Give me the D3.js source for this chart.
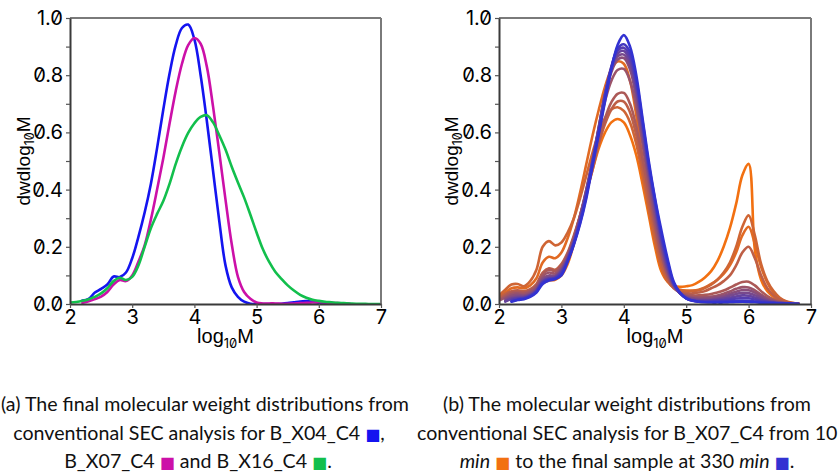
<!DOCTYPE html>
<html><head><meta charset="utf-8">
<script src="https://cdn.jsdelivr.net/npm/d3@7"></script>
<style>
body{margin:0;background:#fff;}
svg{display:block;}
</style></head><body>
<svg id="chart" width="838" height="475"></svg>
<script>
// ---------- DATA ----------
const logM_A = [2.0,2.1,2.2,2.3,2.4,2.5,2.6,2.7,2.8,2.9,3.0,3.1,3.2,3.3,3.4,3.5,3.6,3.7,3.8,3.9,4.0,4.1,4.2,4.3,4.4,4.5,4.6,4.7,4.8,4.9,5.0,5.1,5.2,5.3,5.4,5.5,5.6,5.7,5.8,5.9,6.0,6.1,6.2,6.3,6.4,6.5,6.6,6.7,6.8,6.9,7.0];
const B_X04_C4 = [null,null,.012,.018,.04,.053,.068,.096,.094,.11, .16,.235,.32,.42,.545,.68,.805,.905,.965,.977, .925,.80,.64,.465,.29,.135,.058,.025,.008,.001, 0,0,0,0,.001,.003,.006,.009,.01,.008, .004,.001,0,0,0,0,null,null,null,null,null];
const B_X07_C4 = [null,null,.004,.01,.017,.026,.042,.068,.084,.08, .10,.148,.205,.295,.40,.51,.63,.745,.84,.905, .93,.91,.83,.69,.53,.365,.21,.095,.042,.018, .005,.002,.002,.002,.001,.001,.002,.003,.004,.005, .006,.005,.004,.003,.002,.001,null,null,null,null,null];
const B_X16_C4 = [.005,.007,.011,.017,.025,.037,.055,.08,.092,.084, .095,.135,.20,.265,.315,.36,.42,.49,.55,.598, .632,.654,.66,.635,.59,.54,.48,.425,.372,.312, .25,.192,.148,.113,.088,.065,.047,.032,.022,.015, .011,.008,.006,.004,.003,.002,.001,.001,0,0,0];

const logM_B = [2.0,2.1,2.2,2.3,2.4,2.5,2.6,2.7,2.8,2.9,3.0,3.1,3.2,3.3,3.4,3.5,3.6,3.7,3.8,3.9,4.0,4.1,4.2,4.3,4.4,4.5,4.6,4.7,4.8,4.9,5.0,5.1,5.2,5.3,5.4,5.5,5.6,5.7,5.8,5.9,6.0,6.1,6.2,6.3,6.4,6.5,6.6,6.7,6.8,6.9];
const s01 = [.015,.025,.035,.04,.042,.048,.058,.072,.082,.085, .10,.14,.21,.30,.39,.47,.545,.60,.635,.647, .635,.59,.52,.42,.31,.20,.115,.078,.064,.06, .062,.066,.077,.093,.115,.15,.20,.265,.35,.45, .49,.19,.085,.045,.025,.012,.005,.002,.001,null];
const s02 = [.025,.04,.055,.058,.055,.065,.09,.145,.165,.16, .18,.23,.30,.39,.49,.59,.68,.76,.82,.848, .84,.78,.66,.51,.36,.23,.13,.08,.058,.05, .047,.047,.05,.058,.07,.085,.105,.135,.18,.24, .27,.21,.13,.075,.04,.02,.008,.003,.001,null];
const s03 = [.03,.05,.068,.07,.062,.08,.12,.20,.22,.205, .215,.25,.30,.37,.45,.53,.60,.65,.68,.688, .675,.635,.56,.45,.33,.22,.13,.08,.056,.048, .045,.045,.048,.056,.068,.085,.11,.145,.20,.27, .31,.24,.14,.08,.045,.022,.01,.004,.001,null];
const s04 = [.02,.035,.045,.048,.045,.052,.07,.11,.125,.12, .14,.18,.24,.31,.39,.47,.56,.63,.68,.708, .708,.67,.59,.48,.36,.25,.15,.09,.055,.042, .038,.037,.04,.045,.055,.065,.08,.10,.135,.18, .20,.16,.10,.055,.03,.015,.006,.002,.001,null];
const s05 = [.015,.028,.04,.043,.04,.048,.065,.105,.12,.115, .135,.175,.235,.31,.39,.48,.57,.65,.705,.735, .738,.70,.62,.51,.39,.27,.17,.10,.06,.04, .033,.03,.03,.032,.035,.04,.047,.057,.068,.077, .078,.065,.045,.028,.016,.008,.004,.002,.001,null];
const s06 = [.012,.022,.034,.037,.035,.043,.06,.097,.11,.107, .128,.17,.23,.31,.40,.50,.61,.71,.78,.818, .822,.78,.69,.56,.42,.29,.18,.105,.06,.038, .028,.024,.023,.024,.026,.03,.036,.044,.053,.059, .058,.048,.033,.02,.011,.006,.003,.001,null,null];
const s07 = [null,.018,.028,.032,.03,.038,.055,.09,.10,.10, .122,.165,.225,.305,.40,.505,.62,.73,.81,.855, .86,.82,.72,.58,.44,.31,.20,.115,.065,.038, .026,.02,.018,.019,.021,.024,.029,.036,.043,.049, .048,.04,.027,.016,.009,.005,.002,.001,null,null];
const s08 = [null,.012,.022,.026,.026,.034,.05,.084,.095,.096, .118,.16,.22,.30,.395,.50,.62,.735,.82,.866, .872,.835,.74,.60,.46,.33,.21,.12,.066,.037, .023,.017,.015,.015,.016,.019,.023,.029,.035,.039, .038,.031,.021,.012,.007,.004,.002,.001,null,null];
const s09 = [null,.008,.018,.022,.023,.031,.047,.08,.09,.093, .114,.157,.216,.295,.39,.50,.615,.735,.825,.876, .885,.85,.755,.615,.47,.345,.225,.13,.068,.037, .021,.014,.012,.012,.013,.015,.018,.022,.026,.03, .029,.023,.015,.009,.005,.003,.001,null,null,null];
const s10 = [null,null,.014,.019,.021,.029,.045,.077,.088,.091, .11,.153,.213,.29,.385,.495,.61,.73,.83,.886, .896,.865,.77,.63,.48,.355,.235,.14,.07,.038, .02,.012,.009,.009,.01,.011,.013,.016,.019,.021, .02,.016,.011,.007,.004,.002,.001,null,null,null];
const s11 = [null,null,.01,.016,.019,.027,.043,.074,.085,.089, .105,.15,.21,.285,.378,.49,.60,.72,.825,.893, .908,.88,.785,.64,.49,.365,.245,.15,.073,.039, .02,.011,.008,.007,.007,.008,.009,.01,.011,.012, .011,.009,.006,.004,.003,.002,.002,.001,.001,null];
const s12 = [null,null,.008,.014,.017,.025,.04,.07,.082,.087, .10,.148,.208,.28,.37,.485,.595,.71,.82,.905, .94,.90,.80,.65,.50,.37,.26,.16,.078,.04, .02,.012,.008,.006,.005,.005,.005,.006,.007,.008, .007,.006,.004,.003,.003,.002,.002,.002,.001,null];
const samplesB = [s01,s02,s03,s04,s05,s06,s07,s08,s09,s10,s11,s12];

const xTicks = [2,3,4,5,6,7];
const yTicks = [0,0.1,0.2,0.3,0.4,0.5,0.6,0.7,0.8,0.9,1.0];
const yLabelled = [0,0.2,0.4,0.6,0.8,1.0];

const seriesA = [B_X04_C4, B_X07_C4, B_X16_C4];
const colorsA = ["#1414f0", "#cc10a8", "#12bf4c"];
const orangeB = "#f27011", blueB = "#3232d2";

// ---------- DRAW ----------
const svg = d3.select("#chart");
const TOP = 18, BOT = 304;

function drawPanel(x0, x1, xs, seriesList, colorFn, id, ylabX) {
  const x = d3.scaleLinear().domain([2,7]).range([x0,x1]);
  const y = d3.scaleLinear().domain([0,1]).range([BOT,TOP]);
  const g = svg.append("g");
  g.append("clipPath").attr("id", id).append("rect")
    .attr("x", x0).attr("y", TOP).attr("width", x1-x0).attr("height", BOT-TOP);
  const line = d3.line()
    .defined(d => d[1] !== null)
    .x(d => x(d[0])).y(d => y(d[1]))
    .curve(d3.curveCatmullRom.alpha(0.5));
  const lg = g.append("g").attr("clip-path", `url(#${id})`);
  seriesList.forEach((s, i) => {
    lg.append("path").datum(xs.map((v, k) => [v, s[k]]))
      .attr("d", line).attr("fill", "none")
      .attr("stroke", colorFn(i)).attr("stroke-width", 2.6)
      .attr("stroke-linejoin", "round").attr("stroke-linecap", "round");
  });
  // frame top/right
  g.append("line").attr("x1", x0).attr("x2", x1).attr("y1", TOP).attr("y2", TOP)
    .attr("stroke", "#7a7a7a").attr("stroke-width", 2);
  g.append("line").attr("x1", x1).attr("x2", x1).attr("y1", TOP).attr("y2", BOT)
    .attr("stroke", "#7a7a7a").attr("stroke-width", 2);
  // axes
  const ya = d3.axisLeft(y).tickValues(yTicks).tickSize(4).tickSizeOuter(0).tickPadding(3)
    .tickFormat(d => yLabelled.some(v => Math.abs(v-d) < 1e-9) ? d3.format(".1f")(d) : "");
  const yg = g.append("g").attr("transform", `translate(${x0},0)`).call(ya);
  const xa = d3.axisBottom(x).tickValues(xTicks).tickSize(4).tickSizeOuter(0).tickPadding(2)
    .tickFormat(d3.format("d"));
  const xg = g.append("g").attr("transform", `translate(0,${BOT})`).call(xa);
  [yg, xg].forEach(a => {
    a.select(".domain").attr("stroke", "#3a3a3a").attr("stroke-width", 2);
    a.selectAll(".tick line").attr("stroke", "#555").attr("stroke-width", 1.2);
    a.selectAll(".tick text").attr("fill", "#000")
      .style("font-family", "Inter, 'Liberation Sans', sans-serif")
      .style("font-feature-settings", "'zero' 1")
      .style("font-size", "20px");
  });
  // x label
  const xl = g.append("text").attr("x", (x0+x1)/2).attr("y", 343)
    .attr("text-anchor", "middle")
    .style("font-family", "'Liberation Sans', Arial, sans-serif").style("font-size", "20px");
  xl.append("tspan").text("log");
  xl.append("tspan").attr("dy", 5).style("font-size", "13px")
    .style("font-family", "Inter, sans-serif").style("font-feature-settings", "'zero' 1").text("10");
  xl.append("tspan").attr("dy", -5).text("M");
  // y label
  const yl = g.append("text").attr("transform", `translate(${ylabX},${(TOP+BOT)/2}) rotate(-90)`)
    .attr("text-anchor", "middle")
    .style("font-family", "'Liberation Sans', Arial, sans-serif").style("font-size", "19px");
  yl.append("tspan").text("dwdlog");
  yl.append("tspan").attr("dy", 4).style("font-size", "12.5px")
    .style("font-family", "Inter, sans-serif").style("font-feature-settings", "'zero' 1").text("10");
  yl.append("tspan").attr("dy", -4).text("M");
}

drawPanel(70, 381, logM_A, seriesA, i => colorsA[i], "clipA", 30);
drawPanel(499, 811, logM_B, samplesB,
  i => d3.interpolateRgb(orangeB, blueB)(i / (samplesB.length - 1)), "clipB", 458);

// ---------- CAPTIONS ----------
const capFont = "Lato, 'Open Sans', sans-serif";
function capLine(xp, yp, anchor, parts) {
  const t = svg.append("text").attr("x", xp).attr("y", yp).attr("text-anchor", anchor)
    .style("font-family", capFont).style("font-size", "19.6px").attr("fill", "#111");
  parts.forEach(p => {
    const ts = t.append("tspan").text(p.t);
    if (p.c) ts.attr("fill", p.c).style("font-family", "'DejaVu Sans'").style("font-size", "16px");
    if (p.i) ts.style("font-style", "italic");
  });
}
capLine(1, 411, "start", [{t:"(a) The final molecular weight distributions from"}]);
capLine(199, 440, "middle", [{t:"conventional SEC analysis for B_X04_C4 "},{t:"\u25A0", c:colorsA[0]},{t:","}]);
capLine(198, 468, "middle", [{t:"B_X07_C4 "},{t:"\u25A0", c:colorsA[1]},{t:" and B_X16_C4 "},{t:"\u25A0", c:colorsA[2]},{t:"."}]);
capLine(627, 411, "middle", [{t:"(b) The molecular weight distributions from"}]);
capLine(417, 440, "start", [{t:"conventional SEC analysis for B_X07_C4 from 10"}]);
capLine(627, 468, "middle", [{t:"min", i:true},{t:" "},{t:"\u25A0", c:orangeB},{t:" to the final sample at 330 "},{t:"min", i:true},{t:" "},{t:"\u25A0", c:blueB},{t:"."}]);
</script>
</body></html>
